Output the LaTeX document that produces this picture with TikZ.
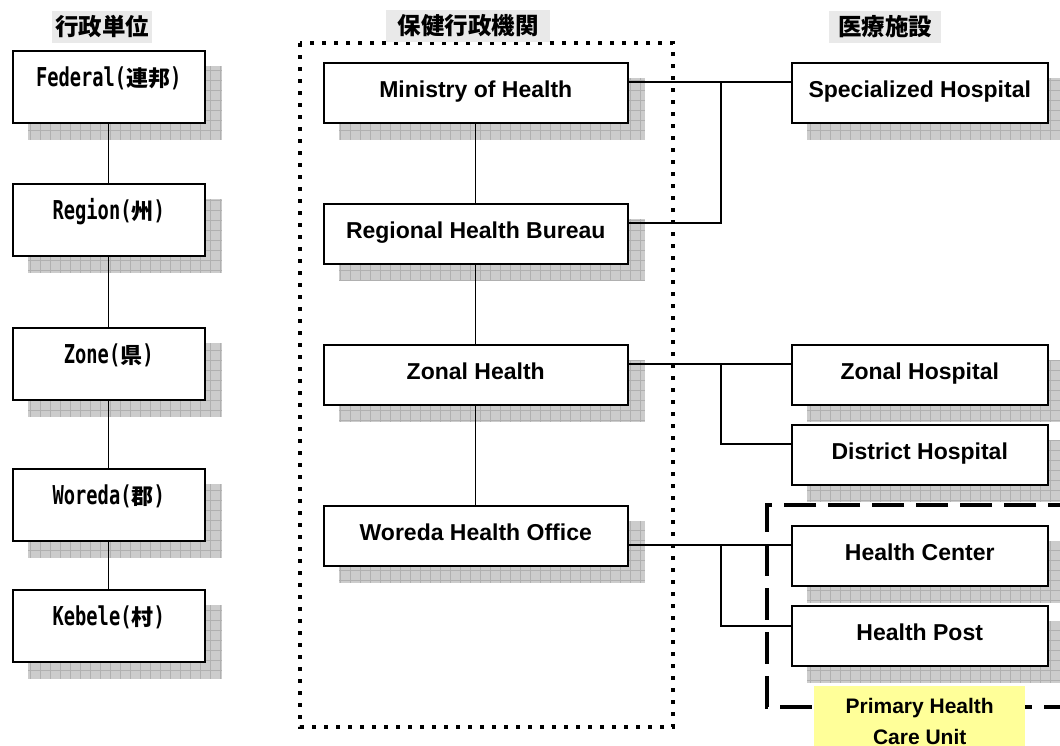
\documentclass[tikz,border=0pt]{standalone}
\usepackage{fontspec}
\setmainfont{Liberation Sans}
\newfontfamily\jpfont{Noto Sans CJK JP}
\newfontfamily\gmono[FakeStretch=0.72]{DejaVu Sans Mono}
\usetikzlibrary{positioning,calc}
\definecolor{pcuyellow}{HTML}{FFFF99}
\pgfdeclarelayer{background}
\pgfsetlayers{background,main}
\newcommand\lvl[2]{{\gmono #1(}{\fontsize{22}{30}\selectfont\jpfont #2}{\gmono )}}
\tikzset{
  lbox/.style={draw, line width=1.5pt, fill=white, anchor=north west, inner sep=0pt,
    minimum width=192pt, text height=36pt, text depth=36pt,
    font=\bfseries\fontsize{26}{30}\selectfont},
  hbox/.style={draw, line width=1.5pt, fill=white, anchor=north west, inner sep=0pt,
    text height=35pt, text depth=25pt, font=\bfseries\fontsize{23}{28}\selectfont},
  head/.style={fill=gray!17, inner sep=0pt, minimum height=32pt,
    font=\jpfont\bfseries\fontsize{23.5}{28}\selectfont},
  link/.style={line width=1.3pt},
  shadowfill/.style={fill=gray!40},
  shadowgrid/.style={gray!62, line width=0.7pt, step=10pt}
}
\begin{document}
\begin{tikzpicture}[x=1pt,y=-1pt]
  \def\sh{16}   % shadow offset
  \def\bx{721}  % x of the branch lines
  \useasboundingbox (0,0) rectangle (1060,745);
  % frames
  \draw[line width=4pt, dash pattern=on 4pt off 8pt] (300,43) rectangle (673,727);
  \coordinate (pcutr) at (1080,505);
  \coordinate (pcubr) at (1080,707);
  \draw[line width=4pt, dash pattern=on 32pt off 12pt] (pcutr) -- (767,505) -- (767,707) -- (pcubr);
  % headers
  \node[head, minimum width=100pt] (h1) at (102,27) {行政単位};
  \node[head, minimum width=164pt] (h2) at (468,26) {保健行政機関};
  \node[head, minimum width=112pt] (h3) at (885,27) {医療施設};
  % administrative levels
  \node[lbox] (fed)  at (12,50)  {\lvl{Federal}{連邦}};
  \node[lbox] (reg)  at (12,183) {\lvl{Region}{州}};
  \node[lbox] (zone) at (12,327) {\lvl{Zone}{県}};
  \node[lbox] (wor)  at (12,468) {\lvl{Woreda}{郡}};
  \node[lbox] (keb)  at (12,589) {\lvl{Kebele}{村}};
  % health administration
  \node[hbox, minimum width=304pt] (moh) at (323,62)  {Ministry of Health};
  \node[hbox, minimum width=304pt] (rhb) at (323,203) {Regional Health Bureau};
  \node[hbox, minimum width=304pt] (zh)  at (323,344) {Zonal Health};
  \node[hbox, minimum width=304pt] (who) at (323,505) {Woreda Health Office};
  % facilities
  \node[hbox, minimum width=256pt] (sh)    at (791,62)  {Specialized Hospital};
  \node[hbox, minimum width=256pt] (zhosp) at (791,344) {Zonal Hospital};
  \node[hbox, minimum width=256pt] (dh)    at (791,424) {District Hospital};
  \node[hbox, minimum width=256pt] (hc)    at (791,525) {Health Center};
  \node[hbox, minimum width=256pt] (hp)    at (791,605) {Health Post};
  \node[fill=pcuyellow, anchor=north west, inner xsep=0pt, inner ysep=12pt, minimum width=211pt,
    align=center, font=\bfseries\fontsize{21}{31}\selectfont] (pcu) at (814,686) {Primary Health\\Care Unit};
  % vertical links
  \foreach \a/\b in {fed/reg,reg/zone,zone/wor,wor/keb,moh/rhb,rhb/zh,zh/who} { \draw[link] (\a) -- (\b); }
  % links to facilities
  \coordinate (j1) at (\bx,82);
  \coordinate (j2) at (\bx,364);
  \coordinate (j3) at (\bx,545);
  \draw[link] ([yshift=-20pt]moh.north east) -- ([yshift=-20pt]sh.north west);
  \draw[link] ([yshift=-20pt]rhb.north east) -| (j1);
  \draw[link] ([yshift=-20pt]zh.north east) -- ([yshift=-20pt]zhosp.north west);
  \draw[link] (j2) |- ([yshift=-20pt]dh.north west);
  \draw[link] ([yshift=-40pt]who.north east) -- ([yshift=-20pt]hc.north west);
  \draw[link] (j3) |- ([yshift=-21pt]hp.north west);
  % shadows
  \begin{pgfonlayer}{background}
    \foreach \n in {fed,reg,zone,wor,keb,moh,rhb,zh,who,sh,zhosp,dh,hc,hp} {
      \fill[shadowfill] ([xshift=\sh pt,yshift=-\sh pt]\n.north west) rectangle ([xshift=\sh pt,yshift=-\sh pt]\n.south east);
      \draw[shadowgrid] ([xshift=\sh pt,yshift=-\sh pt]\n.north west) grid ([xshift=\sh pt,yshift=-\sh pt]\n.south east);
    }
  \end{pgfonlayer}
\end{tikzpicture}
\end{document}
